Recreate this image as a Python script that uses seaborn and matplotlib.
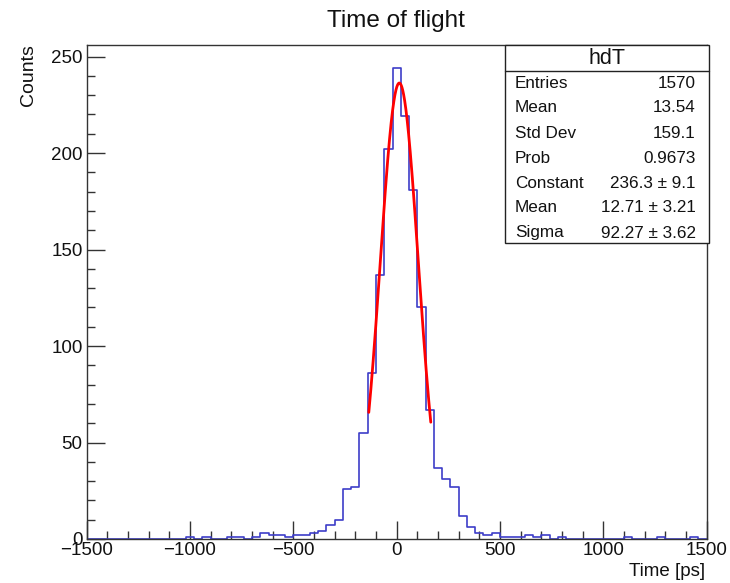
import numpy as np
import pandas as pd
import matplotlib
matplotlib.use("Agg")
import matplotlib.pyplot as plt
import seaborn as sns
from matplotlib.ticker import MultipleLocator

# ---------------- data ----------------
bin_lo, bin_hi, bin_w = -1500, 1500, 40
# bin lower edges (ps) with non-zero counts, and counts
bin_left = [-1020, -940, -820, -780, -700, -660, -620, -580, -540, -500, -460,
            -420, -380, -340, -300, -260, -220, -180, -140, -100, -60, -20,
            20, 60, 100, 140, 180, 220, 260, 300, 340, 380, 420, 460,
            500, 540, 580, 620, 660, 700, 780, 1100, 1260, 1420]
counts = [1, 1, 1, 1, 1, 3, 2, 2, 1, 2, 2,
          3, 4, 7, 10, 26, 27, 55, 86, 137, 202, 244,
          219, 181, 120, 67, 37, 31, 27, 12, 6, 3, 2, 3,
          1, 1, 1, 2, 1, 2, 1, 1, 1, 1]

fit_constant, fit_mean, fit_sigma = 236.3, 12.71, 92.27
fit_range = (-135, 165)

stats_names = ["Entries", "Mean", "Std Dev", "Prob", "Constant", "Mean", "Sigma"]
stats_values = ["1570", "13.54", "159.1", "0.9673", "236.3 \u00b1 9.1",
                "12.71 \u00b1 3.21", "92.27 \u00b1 3.62"]

x_ticks = [-1500, -1000, -500, 0, 500, 1000, 1500]
y_ticks = [0, 50, 100, 150, 200, 250]

# ---------------- plot ----------------
sns.set_theme(style="white")
plt.rcParams["font.family"] = ["Liberation Sans", "DejaVu Sans"]

fig = plt.figure(figsize=(7.3, 5.83), dpi=100)
ax = fig.add_axes([0.1188, 0.0755, 0.968 - 0.1188, 0.9228 - 0.0755])

df = pd.DataFrame({"t": np.array(bin_left, dtype=float) + bin_w / 2,
                   "n": np.array(counts, dtype=float)})
sns.histplot(data=df, x="t", weights="n", binwidth=bin_w,
             binrange=(bin_lo, bin_hi), element="step",
             fill=False, color="#3d3dc8", linewidth=1.2, ax=ax)

xf = np.linspace(fit_range[0], fit_range[1], 300)
yf = fit_constant * np.exp(-0.5 * ((xf - fit_mean) / fit_sigma) ** 2)
sns.lineplot(x=xf, y=yf, color="#ff0000", linewidth=2.0, ax=ax)

ax.set_xlim(bin_lo, bin_hi)
ax.set_ylim(0, 256)
ax.set_xticks(x_ticks)
ax.set_xticklabels([f"{v}".replace("-", "\u2212") for v in x_ticks])
ax.set_yticks(y_ticks)
ax.xaxis.set_minor_locator(MultipleLocator(100))
ax.yaxis.set_minor_locator(MultipleLocator(10))
ax.tick_params(axis="both", which="major", direction="in", length=13,
               width=1.0, color="#333333", labelsize=13.5, labelcolor="#111111",
               bottom=True, left=True, top=False, right=False)
ax.tick_params(axis="both", which="minor", direction="in", length=6,
               width=1.0, color="#333333", bottom=True, left=True,
               top=False, right=False)
ax.tick_params(axis="x", which="major", pad=2)
ax.tick_params(axis="y", which="major", pad=3)
for s in ax.spines.values():
    s.set_color("#333333")
    s.set_linewidth(1.0)

ax.set_xlabel("")
ax.set_ylabel("")
fig.text(705 / 730, 1 - 571 / 583, "Time [ps]", ha="right", va="center",
         fontsize=13.5, color="#111111")
fig.text(28 / 730, 1 - 44 / 583, "Counts", ha="center", va="top",
         rotation=90, fontsize=14, color="#111111")
fig.text(396 / 730, 1 - 21 / 583, "Time of flight", ha="center",
         va="center", fontsize=17.5, color="#111111")

# stats box
bx0, bx1 = 505 / 730, 709 / 730
by0, by1 = 1 - 243 / 583, 1 - 45 / 583
rect = plt.Rectangle((bx0, by0), bx1 - bx0, by1 - by0, transform=fig.transFigure,
                     facecolor="white", edgecolor="#222222", linewidth=1.0,
                     zorder=5)
fig.add_artist(rect)
fig.add_artist(plt.Line2D([bx0, bx1], [1 - 71 / 583] * 2,
                          transform=fig.transFigure, color="#222222",
                          linewidth=1.0, zorder=6))
fig.text((bx0 + bx1) / 2, 1 - 58 / 583, "hdT", ha="center", va="center",
         fontsize=15.5, color="#111111", zorder=7)
row_y = [83, 108, 133, 158, 183, 208, 233]
for name, val, yy in zip(stats_names, stats_values, row_y):
    fig.text(515 / 730, 1 - yy / 583, name, ha="left", va="center",
             fontsize=12.3, color="#111111", zorder=7)
    fig.text(696 / 730, 1 - yy / 583, val, ha="right", va="center",
             fontsize=12.3, color="#111111", zorder=7)

fig.savefig("out.png", dpi=100, facecolor="white")
